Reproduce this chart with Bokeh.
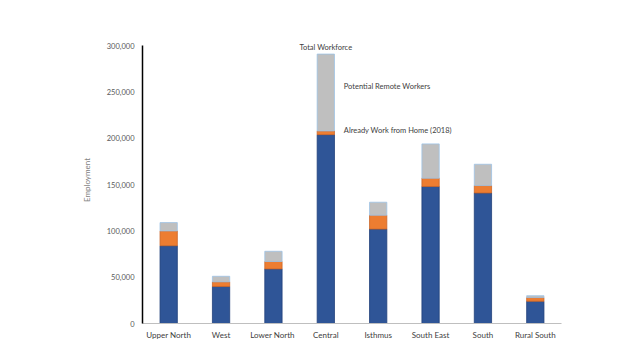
from bokeh.plotting import figure
from bokeh.models import ColumnDataSource, NumeralTickFormatter, Range1d, FixedTicker
from bokeh.embed import file_html
from bokeh.resources import INLINE
from bokeh.core.properties import value

regions = ["Upper North", "West", "Lower  North", "Central", "Isthmus", "South East", "South", "Rural South"]
already_wfh = [84000, 40000, 59000, 204000, 102000, 148000, 141000, 24000]
wfh_2018 = [16000, 5000, 8000, 4000, 15000, 9000, 8000, 4000]
potential_remote = [9000, 6000, 11000, 83000, 14000, 37000, 23000, 2000]
y_ticks = [0, 50000, 100000, 150000, 200000, 250000, 300000]

total = [a + b + c for a, b, c in zip(already_wfh, wfh_2018, potential_remote)]

src = ColumnDataSource(dict(region=regions, blue=already_wfh, orange=wfh_2018, gray=potential_remote))

FONT = "Lato"
TXT = "#595959"

p = figure(x_range=regions, width=632, height=352, output_backend="svg", toolbar_location=None,
           min_border_left=142, min_border_right=71, min_border_top=36, min_border_bottom=29)
p.y_range = Range1d(0, 310000)

p.vbar_stack(["blue", "orange", "gray"], x="region", width=0.33, source=src,
             color=["#2F5597", "#ED7D31", "#BFBFBF"],
             line_color=["#1F3F7A", "#C9662A", "#9DC3E6"], line_width=0.8)

p.xgrid.visible = False
p.ygrid.visible = False
p.outline_line_color = None

p.yaxis.ticker = FixedTicker(ticks=y_ticks)
p.yaxis.bounds = (y_ticks[0], y_ticks[-1])
p.yaxis.formatter = NumeralTickFormatter(format="0,0")
p.yaxis.axis_line_color = "black"
p.yaxis.axis_line_width = 1.5
p.yaxis.major_tick_line_color = None
p.yaxis.major_tick_out = 0
p.yaxis.major_tick_in = 0
p.yaxis.minor_tick_line_color = None
p.yaxis.major_label_text_font = FONT
p.yaxis.major_label_text_font_size = "7.5px"
p.yaxis.major_label_text_color = TXT
p.yaxis.major_label_standoff = 8
p.yaxis.axis_label = "Employment"
p.yaxis.axis_label_text_font = FONT
p.yaxis.axis_label_text_font_size = "8px"
p.yaxis.axis_label_text_font_style = "normal"
p.yaxis.axis_label_text_color = "#7F7F7F"
p.yaxis.axis_label_standoff = 12

p.xaxis.axis_line_color = "#BFBFBF"
p.xaxis.major_tick_line_color = None
p.xaxis.major_tick_out = 0
p.xaxis.major_tick_in = 0
p.xaxis.minor_tick_line_color = None
p.xaxis.major_label_text_font = FONT
p.xaxis.major_label_text_font_size = "8px"
p.xaxis.major_label_text_color = "#404040"
p.xaxis.major_label_standoff = 6

# annotations on Central bar
ci = regions.index("Central")
cx = regions[ci]
base = already_wfh[ci] + wfh_2018[ci]
p.text(x=[cx], y=[total[ci]], text=["Total Workforce"], text_font=value(FONT), text_font_size="7.5px",
       text_color="#404040", text_align="center", text_baseline="bottom", y_offset=-2)
p.text(x=[cx, cx], y=[total[ci] - 35000, base],
       text=["Potential Remote Workers", "Already Work from Home (2018)"],
       text_font=value(FONT), text_font_size="7.5px", text_color="#404040",
       text_align="left", text_baseline="middle", x_offset=18)

open("out.html", "w").write(file_html(p, INLINE))
